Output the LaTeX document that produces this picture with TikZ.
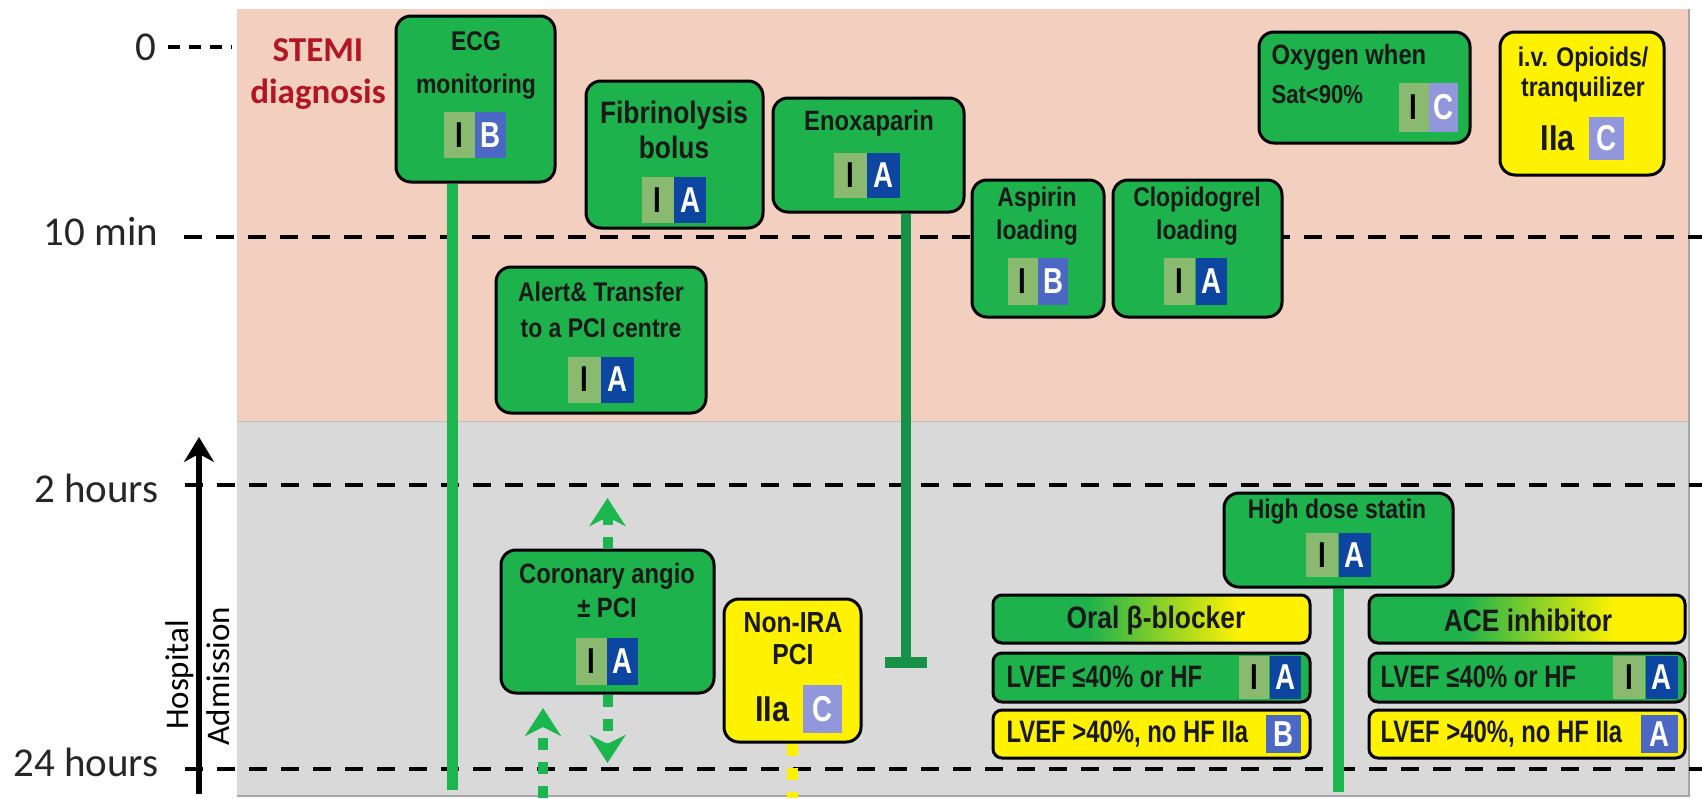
\documentclass[tikz,border=0pt]{standalone}
\usepackage{fontspec}
\usepackage{tikz}
\usetikzlibrary{positioning,arrows.meta}
\setmainfont{Carlito}
\newfontfamily\boxfont{Liberation Sans}[FakeStretch=0.85]
\newfontfamily\rowfont{Liberation Sans}[FakeStretch=0.77]

\definecolor{pinkbg}{RGB}{242,207,191}
\definecolor{graybg}{RGB}{217,217,217}
\definecolor{boxgreen}{RGB}{30,178,76}
\definecolor{linegreen}{RGB}{28,182,78}
\definecolor{darkline}{RGB}{22,146,72}
\definecolor{boxyellow}{RGB}{255,242,0}
\definecolor{clsI}{RGB}{138,186,112}
\definecolor{clsA}{RGB}{12,70,160}
\definecolor{clsB}{RGB}{74,104,196}
\definecolor{clsC}{RGB}{146,150,218}
\definecolor{stemired}{RGB}{178,22,34}
\pgfdeclarehorizontalshading{gyshade}{100bp}{color(0bp)=(boxgreen); color(40bp)=(boxgreen); color(64bp)=(boxyellow); color(100bp)=(boxyellow)}

\begin{document}
\begin{tikzpicture}[x=1pt,y=-1pt,
  actbox/.style={draw=black, line width=3pt, rounded corners=15pt, fill=boxgreen, inner sep=0pt},
  ybox/.style={actbox, fill=boxyellow},
  rowbox/.style={draw=black, line width=3pt, rounded corners=9pt, inner sep=0pt, minimum width=317pt, minimum height=48pt},
  txt/.style={align=center, text=black!90, font=\boxfont\bfseries\fontsize{27}{33}\selectfont},
  rowtxt/.style={anchor=west, text=black!90, font=\rowfont\bfseries\fontsize{31}{31}\selectfont},
  badgecell/.style={minimum width=31pt, minimum height=46pt, inner sep=0pt, font=\rowfont\bfseries\fontsize{36}{36}\selectfont},
  cI/.style={badgecell, fill=clsI, text=black},
  cA/.style={badgecell, fill=clsA, text=white},
  cB/.style={badgecell, fill=clsB, text=white},
  cC/.style={badgecell, fill=clsC, text=white},
  timeline/.style={black, line width=3.5pt, dash pattern=on 18pt off 14pt},
  timelabel/.style={anchor=east, text=black!85, font=\fontsize{41}{41}\selectfont},
  gline/.style={linegreen, line width=11pt},
  garrow/.style={linegreen, line width=10pt, dash pattern=on 12pt off 12pt, -{Stealth[length=28pt,width=36pt,inset=9pt]}},
]
\useasboundingbox (0,0) rectangle (1702,798);

% background panels
\fill[pinkbg] (237,9) rectangle (1689,421);
\fill[graybg] (237,421) rectangle (1689,796);
\draw[black!25, line width=1pt] (237,421) -- (1689,421);
\draw[black!35, line width=1.5pt] (1689,9) -- (1689,796) -- (237,796);

% time axis
\draw[black, line width=3.5pt, dash pattern=on 12pt off 9pt] (168,47) -- (232,47);
\draw[timeline] (184,237) -- (1702,237);
\draw[timeline] (185,485) -- (1702,485);
\draw[timeline] (185,769) -- (1702,769);
\node[timelabel] (t0) at (160,47) {0};
\node[timelabel] (t10) at (162,232) {10 min};
\node[timelabel] (t2h) at (162,488) {2 hours};
\node[timelabel] (t24h) at (162,762) {24 hours};

\coordinate (adm0) at (199,794);
\coordinate (adm1) at (199,437);
\draw[line width=6pt, -{Stealth[length=25pt,width=30pt]}] (adm0) -- (adm1);
\node[rotate=90, font=\fontsize{33}{33}\selectfont] (hosp) at (180,675) {Hospital};
\node[rotate=90, font=\fontsize{33}{33}\selectfont] (admis) at (218,676) {Admission};

\node[align=center, text=stemired, font=\bfseries\fontsize{35}{42}\selectfont] (stemi) at (318,74) {STEMI\\diagnosis};

% first 10 minutes
\node[actbox, minimum width=159pt, minimum height=166pt] (ecg) at (475.5,99) {};
\node[txt] (ecgtxt) at (476,65) {ECG\\[10pt]monitoring};
\node[cI, anchor=east] (ecgI) at (475,135) {I};
\node[cB, right=0pt of ecgI] (ecgB) {B};

\node[actbox, minimum width=177pt, minimum height=147pt] (fib) at (674.5,154.5) {};
\node[txt, font=\boxfont\bfseries\fontsize{31}{35}\selectfont] (fibtxt) at (674,130) {Fibrinolysis\\bolus};
\node[cI, minimum width=32pt, anchor=east] (fibI) at (674,200) {I};
\node[cA, minimum width=32pt, right=0pt of fibI] (fibA) {A};

\node[actbox, minimum width=191pt, minimum height=114pt] (enox) at (868.5,155) {};
\node[txt, font=\boxfont\bfseries\fontsize{28}{33}\selectfont] (enoxtxt) at (869,123) {Enoxaparin};
\node[cI, minimum width=33pt, minimum height=45pt, anchor=east] (enoxI) at (867,175.5) {I};
\node[cA, minimum width=33pt, minimum height=45pt, right=0pt of enoxI] (enoxA) {A};

\node[actbox, minimum width=210pt, minimum height=146pt] (alert) at (601,340) {};
\node[txt, font=\boxfont\bfseries\fontsize{27}{36}\selectfont] (alerttxt) at (601,310) {Alert\& Transfer\\to a PCI centre};
\node[cI, minimum width=33pt, anchor=east] (alertI) at (601,379.5) {I};
\node[cA, minimum width=33pt, right=0pt of alertI] (alertA) {A};

\node[actbox, minimum width=132pt, minimum height=137pt] (asp) at (1038,248.5) {};
\node[txt] (asptxt) at (1037,216.5) {Aspirin\\loading};
\node[cI, minimum width=30pt, minimum height=47pt, anchor=east] (aspI) at (1038,281.5) {I};
\node[cB, minimum width=30pt, minimum height=47pt, right=0pt of aspI] (aspB) {B};

\node[actbox, minimum width=169pt, minimum height=137pt] (clop) at (1197.5,248.5) {};
\node[txt] (cloptxt) at (1197,216.5) {Clopidogrel\\loading};
\node[cI, minimum width=31pt, minimum height=47pt, anchor=east] (clopI) at (1195.5,281.5) {I};
\node[cA, minimum width=31pt, minimum height=47pt, right=0pt of clopI] (clopA) {A};

\node[actbox, minimum width=211pt, minimum height=111pt] (oxy) at (1364.5,87.5) {};
\node[txt, anchor=west, font=\boxfont\bfseries\fontsize{28}{33}\selectfont] (oxytxt) at (1268,57) {Oxygen when};
\node[txt, anchor=west, font=\boxfont\bfseries\fontsize{26}{30}\selectfont] (sattxt) at (1268,95) {Sat<90\%};
\node[cI, minimum width=30pt, minimum height=49pt, anchor=east] (oxyI) at (1429,107.5) {I};
\node[cC, minimum width=29pt, minimum height=49pt, right=0pt of oxyI] (oxyC) {C};

\node[ybox, minimum width=164pt, minimum height=143pt] (opi) at (1582,103.5) {};
\node[txt, font=\boxfont\bfseries\fontsize{27}{30}\selectfont] (opitxt) at (1583,75) {i.v. Opioids/\\tranquilizer};
\node[cC, minimum width=35pt, minimum height=43pt] (opiC) at (1606,138.5) {C};
\node[txt, font=\boxfont\bfseries\fontsize{36}{36}\selectfont, left=10pt of opiC] (opiIIa) {IIa};

% hospital phase
\node[actbox, minimum width=213pt, minimum height=143pt] (cor) at (607.5,621.5) {};
\node[txt, font=\boxfont\bfseries\fontsize{28}{34}\selectfont] (cortxt) at (607,590) {Coronary angio\\± PCI};
\node[cI, minimum width=31pt, minimum height=47pt, anchor=east] (corI) at (607,661.5) {I};
\node[cA, minimum width=31pt, minimum height=47pt, right=0pt of corI] (corA) {A};

\node[ybox, minimum width=137pt, minimum height=143pt] (nira) at (792.5,670.5) {};
\node[txt, font=\boxfont\bfseries\fontsize{29}{32}\selectfont] (niratxt) at (793,639) {Non-IRA\\PCI};
\node[cC, minimum width=39pt, minimum height=48pt] (niraC) at (822.5,709) {C};
\node[txt, font=\boxfont\bfseries\fontsize{36}{36}\selectfont, left=10pt of niraC] (niraIIa) {IIa};

\node[actbox, minimum width=229pt, minimum height=94pt] (statin) at (1338.5,540) {};
\node[txt] (statintxt) at (1337,512) {High dose statin};
\node[cI, minimum width=32pt, minimum height=44pt, anchor=east] (statinI) at (1338.5,555) {I};
\node[cA, minimum width=32pt, minimum height=44pt, right=0pt of statinI] (statinA) {A};

% beta-blocker group
\node[rowbox, shade, shading=gyshade] (bbhead) at (1151.5,619) {};
\node[txt, font=\boxfont\bfseries\fontsize{31}{31}\selectfont] (bbheadtxt) at (1156,620) {Oral β-blocker};
\node[rowbox, fill=boxgreen, minimum height=49pt] (bbrow1) at (1151.5,677.5) {};
\node[rowtxt] (bbrow1txt) at (1003,677) {LVEF ≤40\% or HF};
\node[cA, minimum height=43pt, anchor=east] (bbrow1A) at (1301,677) {A};
\node[cI, minimum width=30pt, minimum height=43pt, left=0pt of bbrow1A] (bbrow1I) {I};
\node[rowbox, fill=boxyellow] (bbrow2) at (1151.5,734) {};
\node[rowtxt] (bbrow2txt) at (1003,734) {LVEF >40\%, no HF IIa};
\node[cB, minimum width=35pt, minimum height=38pt, anchor=east] (bbrow2B) at (1301,734) {B};

% ACE inhibitor group
\node[rowbox, shade, shading=gyshade, minimum width=316pt] (acehead) at (1527,619) {};
\node[txt, font=\boxfont\bfseries\fontsize{31}{31}\selectfont] (aceheadtxt) at (1528,620) {ACE inhibitor};
\node[rowbox, fill=boxgreen, minimum width=316pt, minimum height=49pt] (acerow1) at (1527,677.5) {};
\node[rowtxt] (acerow1txt) at (1377,677) {LVEF ≤40\% or HF};
\node[cA, minimum width=32pt, minimum height=43pt, anchor=east] (acerow1A) at (1678,677) {A};
\node[cI, minimum width=32pt, minimum height=43pt, left=0pt of acerow1A] (acerow1I) {I};
\node[rowbox, fill=boxyellow, minimum width=316pt] (acerow2) at (1527,734) {};
\node[rowtxt] (acerow2txt) at (1377,734) {LVEF >40\%, no HF IIa};
\node[cB, minimum width=37pt, minimum height=38pt, anchor=east] (acerow2A) at (1678,734) {A};

% duration lines
\coordinate (ecgend) at (452,790);
\draw[gline] (ecgend |- ecg.south) -- (ecgend);
\coordinate (enoxend) at (906,668);
\draw[darkline, line width=10pt, -{Rectangle[length=11pt,width=42pt]}] (enoxend |- enox.south) -- (enoxend);
\coordinate (statend) at (1338,792);
\draw[gline] (statend |- statin.south) -- (statend);

\coordinate (corup) at (607.5,498);
\coordinate (cordown) at (607.5,763);
\draw[garrow] (cor.north) -- (corup);
\draw[garrow] (cor.south) -- (cordown);
\coordinate (ptbot) at (543,798);
\coordinate (pttop) at (543,708);
\draw[garrow] (ptbot) -- (pttop);
\coordinate (nirabot) at (792.5,798);
\draw[boxyellow, line width=11pt, dash pattern=on 12pt off 12pt] (nira.south) -- (nirabot);
\end{tikzpicture}
\end{document}
